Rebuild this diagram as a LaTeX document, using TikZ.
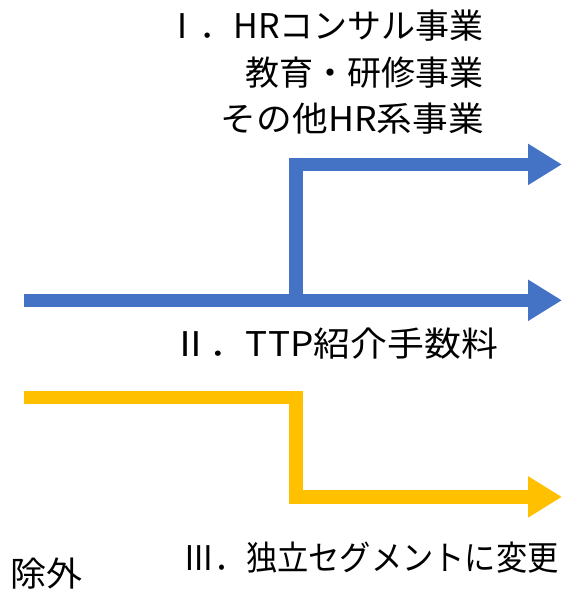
\documentclass[tikz,border=0pt]{standalone}
\usepackage{fontspec}
\usepackage{graphicx}
\setmainfont{Noto Sans CJK JP}
\usetikzlibrary{arrows.meta}
\definecolor{pblue}{HTML}{4472C4}
\definecolor{pyellow}{HTML}{FFC000}
\tikzset{
  flow/.style={line width=13.3pt, line cap=butt, line join=miter},
  tip/.style={-{Triangle[length=34pt,width=39pt]}},
  lbl/.style={inner sep=0pt, font=\fontsize{34}{40}\selectfont, text=black}
}
\begin{document}
\begin{tikzpicture}[x=1pt,y=-1pt]
\useasboundingbox (0,0) rectangle (562,594);
% coordinates
\coordinate (bs) at (24,300.3);
\coordinate (be) at (562,300.3);
\coordinate (bj) at (296,300.3);
\coordinate (bc) at (296,164.4);
\coordinate (bt) at (562,164.4);
\coordinate (ys) at (24,397.7);
\coordinate (yc1) at (296,397.7);
\coordinate (yc2) at (296,496.9);
\coordinate (ye) at (562,496.9);
% blue
\draw[flow, pblue, tip] (bs) -- (be);
\draw[flow, pblue, tip] (bj) -- (bc) -- (bt);
% yellow
\draw[flow, pyellow, tip] (ys) -- (yc1) -- (yc2) -- (ye);
% labels
\node[lbl, anchor=base east] (t1) at (484,39) {Ⅰ．HRコンサル事業};
\node[lbl, anchor=base east] (t2) at (484,85) {教育・研修事業};
\node[lbl, anchor=base east] (t3) at (484,131) {\scalebox{1.05}[1]{その他HR系事業}};
\node[lbl, anchor=base west] (t4) at (172,356) {\scalebox{1.085}[1]{Ⅱ．TTP紹介手数料}};
\node[lbl, anchor=base east] (t5) at (559,570) {\scalebox{0.92}[1]{Ⅲ．独立セグメントに変更}};
\node[lbl, anchor=base west] (t6) at (10,586) {\scalebox{1.06}[1]{除外}};
\end{tikzpicture}
\end{document}
